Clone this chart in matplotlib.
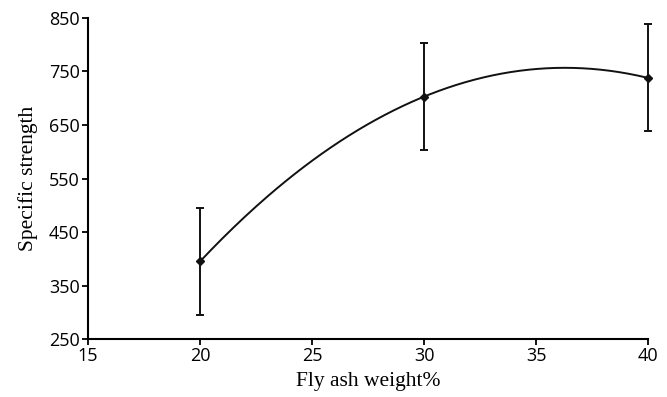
import numpy as np
import matplotlib
matplotlib.use("Agg")
import matplotlib.pyplot as plt

fly_ash = [20, 30, 40]
strength = [395, 703, 738]
err = [100, 100, 100]
xticks = [15, 20, 25, 30, 35, 40]
yticks = [250, 350, 450, 550, 650, 750, 850]

fig = plt.figure(figsize=(6.67, 3.97), dpi=100)
ax = fig.add_axes([0.132, 0.146, 0.8395, 0.8087])

coef = np.polyfit(fly_ash, strength, 2)
xs = np.linspace(min(fly_ash), max(fly_ash), 200)
ax.plot(xs, np.polyval(coef, xs), color="#111111", lw=1.4)
eb = ax.errorbar(fly_ash, strength, yerr=err, fmt="D", color="#111111", ms=4,
                 capsize=3, elinewidth=1.4, capthick=1.4, clip_on=False)

ax.set_xlim(15, 40)
ax.set_ylim(250, 850)
ax.set_xticks(xticks)
ax.set_yticks(yticks)
for s in ["top", "right"]:
    ax.spines[s].set_visible(False)
for s in ["left", "bottom"]:
    ax.spines[s].set_linewidth(1.5)
ax.tick_params(direction="out", length=4, width=1.3, labelsize=13, pad=2)
for lab in ax.get_xticklabels() + ax.get_yticklabels():
    lab.set_fontfamily("Open Sans")
ax.set_xlabel("Fly ash weight%", fontfamily="Liberation Serif", fontsize=15.5, labelpad=5)
ax.set_ylabel("Specific strength", fontfamily="Liberation Serif", fontsize=15.5, labelpad=8)

fig.savefig("out.png", dpi=100)
